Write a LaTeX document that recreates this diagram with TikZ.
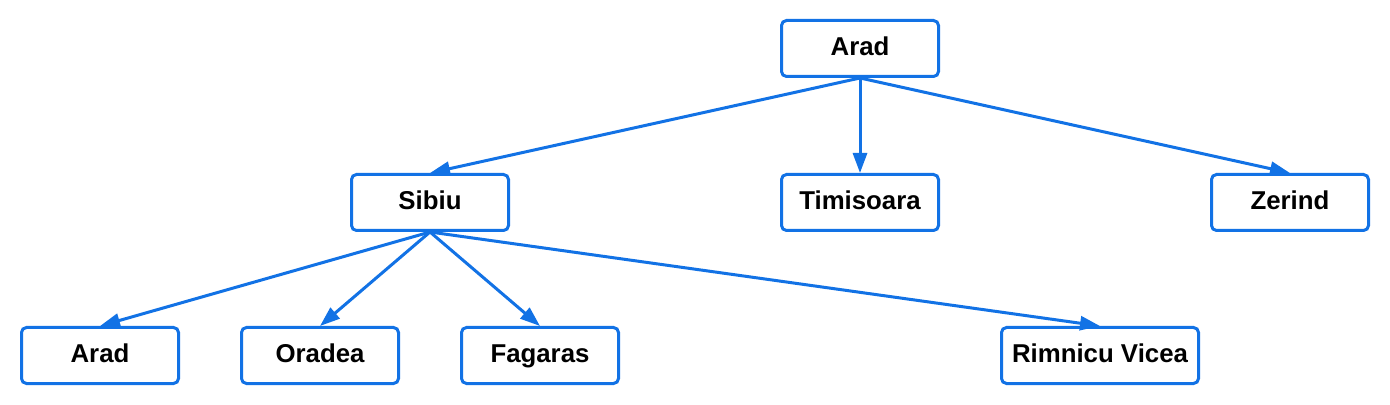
\documentclass[tikz,border=0pt]{standalone}
\usepackage{fontspec}
\setmainfont{Liberation Sans}
\usetikzlibrary{arrows.meta,positioning}
\definecolor{treeblue}{RGB}{18,114,229}

\begin{document}
\begin{tikzpicture}[x=0.5pt, y=-0.5pt,
    city/.style={draw=treeblue, line width=1.5pt, rounded corners=2.5pt,
      fill=white, minimum width=78.5pt, minimum height=28pt,
      font=\fontsize{12.9}{15}\selectfont\bfseries, inner sep=0pt,
      text height=9.5pt, text depth=2.5pt},
    wide/.style={minimum width=98.5pt},
    link/.style={-{Triangle[length=10pt,width=7pt]}, treeblue, line width=1.5pt}]
    \useasboundingbox (0,0) rectangle (1390,405);

    % Root
    \node[city] (arad) at (860,48.5) {Arad};

    % Second level
    \node[city] (sibiu) at (430,202.5) {Sibiu};
    \node[city] (timisoara) at (860,202.5) {Timisoara};
    \node[city] (zerind) at (1290,202.5) {Zerind};

    % Third level (children of Sibiu)
    \node[city] (arad2) at (100,355.5) {Arad};
    \node[city] (oradea) at (320,355.5) {Oradea};
    \node[city] (fagaras) at (540,355.5) {Fagaras};
    \node[city, wide] (rimnicu) at (1100,355.5) {Rimnicu Vicea};

    % Edges
    \draw[link] (arad.south) -- (sibiu.north);
    \draw[link] (arad.south) -- (timisoara.north);
    \draw[link] (arad.south) -- (zerind.north);
    \draw[link] (sibiu.south) -- (arad2.north);
    \draw[link] (sibiu.south) -- (oradea.north);
    \draw[link] (sibiu.south) -- (fagaras.north);
    \draw[link] (sibiu.south) -- (rimnicu.north);
  \end{tikzpicture}
\end{document}
